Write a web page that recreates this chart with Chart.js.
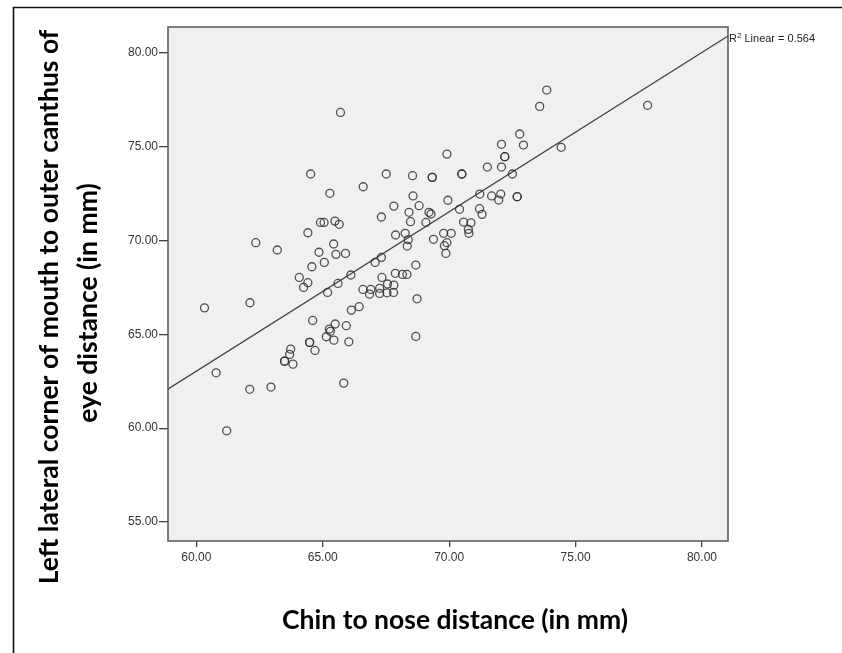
<!DOCTYPE html>
<html>
<head>
<meta charset="utf-8">
<script src="https://cdn.jsdelivr.net/npm/chart.js@4.4.0/dist/chart.umd.min.js"></script>
<style>
html,body{margin:0;padding:0;background:#fff;}
#wrap{width:842px;height:653px;position:relative;}
</style>
</head>
<body>
<div id="wrap"><canvas id="c" width="842" height="653"></canvas></div>
<script>
// Chin to nose distance (mm)
const chinNose = [
65.70,69.91,64.52,67.51,68.55,69.33,69.33,70.50,70.50,65.28,
66.60,68.57,69.95,67.81,68.41,68.81,69.20,69.28,68.47,69.08,
67.32,64.41,64.91,65.05,65.48,65.65,62.35,63.20,65.43,64.85,
65.52,65.90,64.57,65.06,67.88,68.26,68.38,68.34,69.38,69.78,
70.08,69.81,69.91,69.87,67.32,67.07,68.68,67.87,68.15,68.33,
67.34,64.07,64.41,66.11,70.41,73.86,73.58,77.85,72.79,72.94,
74.43,72.07,72.20,72.20,71.51,72.07,72.50,71.21,71.68,71.96,
72.04,72.69,72.69,71.20,71.30,70.57,70.86,70.76,70.78,64.24,
65.60,65.19,66.59,66.90,66.85,67.25,67.25,67.56,67.81,67.54,
67.80,68.73,68.68,60.32,62.12,66.13,66.44,64.60,65.49,65.93,
65.26,65.30,65.14,65.44,66.03,64.48,64.48,64.69,63.73,63.69,
63.82,63.49,63.49,60.78,62.11,62.95,65.83,61.20
];
// Left lateral corner of mouth to outer canthus of eye distance (mm)
const mouthCanthus = [
76.82,74.60,73.54,73.54,73.45,73.36,73.36,73.54,73.54,72.51,
72.86,72.37,72.14,71.83,71.50,71.85,71.50,71.41,71.00,70.96,
71.25,70.41,70.96,70.96,71.03,70.86,69.88,69.49,69.81,69.37,
69.26,69.31,68.60,68.83,70.29,70.38,70.04,69.70,70.06,70.38,
70.38,69.72,69.88,69.31,69.10,68.83,68.69,68.25,68.19,68.19,
68.03,68.03,67.75,68.16,71.66,78.01,77.14,77.20,75.67,75.08,
74.96,75.12,74.46,74.46,73.91,73.91,73.54,72.47,72.37,72.15,
72.47,72.33,72.33,71.69,71.39,70.98,70.94,70.59,70.38,67.50,
67.71,67.23,67.39,67.39,67.14,67.45,67.18,67.68,67.62,67.21,
67.23,66.89,64.89,66.41,66.68,66.29,66.47,65.74,65.55,65.46,
65.28,65.16,64.87,64.69,64.60,64.57,64.57,64.14,64.21,63.93,
63.41,63.57,63.57,62.95,62.07,62.19,62.40,59.86
];
// Fit line end points (as drawn in the original, across the plot)
const fitX = [58.87, 81.03];
const fitY = [62.08, 80.89];
const xTicks = [60, 65, 70, 75, 80];
const yTicks = [55, 60, 65, 70, 75, 80];
const r2Text = "0.564";
const xTitle = "Chin to nose distance (in mm)";
const yTitle = ["Left lateral corner of mouth to outer canthus of", "eye distance (in mm)"];

const points = chinNose.map((x, i) => ({x: x, y: mouthCanthus[i]}));
const fitLine = fitX.map((x, i) => ({x: x, y: fitY[i]}));

const decor = {
  id: 'decor',
  beforeDraw(chart) {
    const {ctx, chartArea: a} = chart;
    ctx.save();
    ctx.fillStyle = '#f0f0f0';
    ctx.fillRect(a.left, a.top, a.right - a.left, a.bottom - a.top);
    ctx.restore();
  },
  afterDraw(chart) {
    const {ctx, chartArea: a} = chart;
    ctx.save();
    // plot frame
    ctx.strokeStyle = '#555';
    ctx.lineWidth = 1.5;
    ctx.strokeRect(a.left, a.top, a.right - a.left, a.bottom - a.top);
    // outer frame (top and left)
    ctx.strokeStyle = '#111';
    ctx.lineWidth = 1.6;
    ctx.beginPath();
    ctx.moveTo(842, 7.5);
    ctx.lineTo(13.5, 7.5);
    ctx.lineTo(13.5, 653);
    ctx.stroke();
    // R2 label
    ctx.fillStyle = '#222';
    ctx.textBaseline = 'alphabetic';
    ctx.textAlign = 'left';
    let x = a.right + 1, y = 42;
    ctx.font = '11px "Liberation Sans", Arial, sans-serif';
    ctx.fillText('R', x, y);
    x += ctx.measureText('R').width;
    ctx.font = '8px "Liberation Sans", Arial, sans-serif';
    ctx.fillText('2', x, y - 4);
    x += ctx.measureText('2').width;
    ctx.font = '11px "Liberation Sans", Arial, sans-serif';
    ctx.fillText(' Linear = ' + r2Text, x, y);
    // axis titles
    ctx.fillStyle = '#000';
    ctx.font = 'bold 26.5px Lato, "Noto Sans", sans-serif';
    ctx.textAlign = 'center';
    ctx.textBaseline = 'middle';
    ctx.fillText(xTitle, 455, 620);
    ctx.save();
    ctx.translate(49, 307);
    ctx.rotate(-Math.PI / 2);
    ctx.fillText(yTitle[0], 0, 0);
    ctx.restore();
    ctx.save();
    ctx.translate(88, 303);
    ctx.rotate(-Math.PI / 2);
    ctx.fillText(yTitle[1], 0, 0);
    ctx.restore();
    ctx.restore();
  }
};

const tickFont = {family: '"Liberation Sans", Arial, sans-serif', size: 12};

new Chart(document.getElementById('c'), {
  type: 'scatter',
  data: {
    datasets: [
      {
        type: 'scatter',
        data: points,
        pointRadius: 4,
        pointHoverRadius: 4,
        pointBorderWidth: 1.3,
        pointBorderColor: 'rgba(50,50,50,0.85)',
        pointBackgroundColor: 'rgba(0,0,0,0)'
      },
      {
        type: 'line',
        data: fitLine,
        borderColor: '#444',
        borderWidth: 1.3,
        pointRadius: 0,
        fill: false
      }
    ]
  },
  options: {
    responsive: false,
    animation: false,
    events: [],
    layout: {padding: {left: 0, right: 114, top: 27, bottom: 0}},
    plugins: {legend: {display: false}, tooltip: {enabled: false}},
    scales: {
      x: {
        type: 'linear',
        min: 58.877,
        max: 81.03,
        afterBuildTicks: s => { s.ticks = xTicks.map(v => ({value: v})); },
        afterFit: s => { s.height = 653 - 541; },
        border: {display: false},
        grid: {display: true, drawOnChartArea: false, tickLength: 6, color: '#444', lineWidth: 1.3},
        ticks: {
          font: tickFont, color: '#333', padding: 3, maxRotation: 0,
          callback: v => Number(v).toFixed(2)
        }
      },
      y: {
        type: 'linear',
        min: 53.99,
        max: 81.37,
        afterBuildTicks: s => { s.ticks = yTicks.map(v => ({value: v})); },
        afterFit: s => { s.width = 168; },
        border: {display: false},
        grid: {display: true, drawOnChartArea: false, tickLength: 9, color: '#444', lineWidth: 1.3},
        ticks: {
          font: tickFont, color: '#333', padding: 1,
          callback: v => Number(v).toFixed(2)
        }
      }
    }
  },
  plugins: [decor]
});
</script>
</body>
</html>
